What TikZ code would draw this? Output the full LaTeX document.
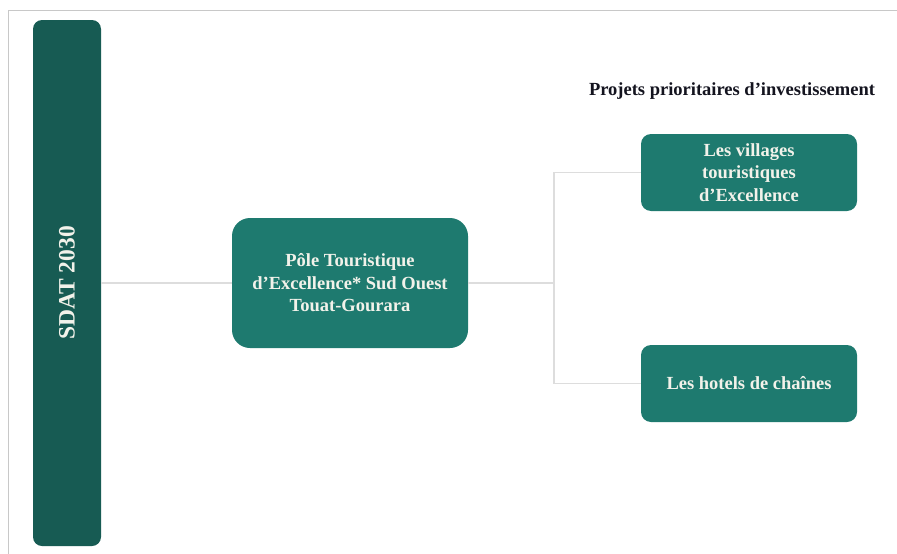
\documentclass[tikz,border=0pt]{standalone}
\usepackage{fontspec}
\setmainfont{Liberation Serif}
\usepackage{xcolor}
\usepackage{tikz}
\usetikzlibrary{positioning}
\definecolor{sdatgreen}{HTML}{175B53}
\definecolor{poletealx}{HTML}{1E7A6F}
\definecolor{paletext}{HTML}{F2F2EA}
\definecolor{linkgrey}{HTML}{DDDDDD}
\definecolor{framegrey}{HTML}{C8C8C8}
\definecolor{titledark}{HTML}{14141F}

\begin{document}
\begin{tikzpicture}[x=1pt, y=-1pt,
    font=\bfseries\fontsize{18.5}{22.5}\selectfont,
    block/.style={rectangle, fill=poletealx, text=paletext, align=center,
      inner sep=0pt, minimum width=216pt, minimum height=77pt, rounded corners=10pt},
    link/.style={draw=linkgrey, line width=1.4pt}]

    \useasboundingbox (0,0) rectangle (897,554);
    \draw[framegrey, line width=1pt] (8,554) -- (8,10) -- (897,10);

    \node (sdat) [rectangle, fill=sdatgreen, rounded corners=9pt, inner sep=0pt,
      minimum width=68pt, minimum height=526pt] at (67,283) {};
    \node[rotate=90, text=paletext, font=\bfseries\fontsize{23.5}{26}\selectfont] (sdatlabel) at (sdat.center) {SDAT 2030};

    \node (pole) [block, minimum width=236pt, minimum height=130pt, rounded corners=18pt] at (350,283)
      {Pôle Touristique\\d’Excellence* Sud Ouest\\Touat-Gourara};

    \node (villages) [block] at (749,172.5) {Les villages\\touristiques\\d’Excellence};
    \node (hotels) [block] at (749,383.5) {Les hotels de chaînes};

    \node (projets) [text=titledark, font=\bfseries\fontsize{18.5}{20}\selectfont] at (732,91)
      {Projets prioritaires d’investissement};

    % branches
    \coordinate (fork) at (554,283);
    \draw[link] (sdat.east) -- (pole.west);
    \draw[link] (pole.east) -- (fork);
    \draw[link] (villages.west) -| (fork) |- (hotels.west);
\end{tikzpicture}
\end{document}
